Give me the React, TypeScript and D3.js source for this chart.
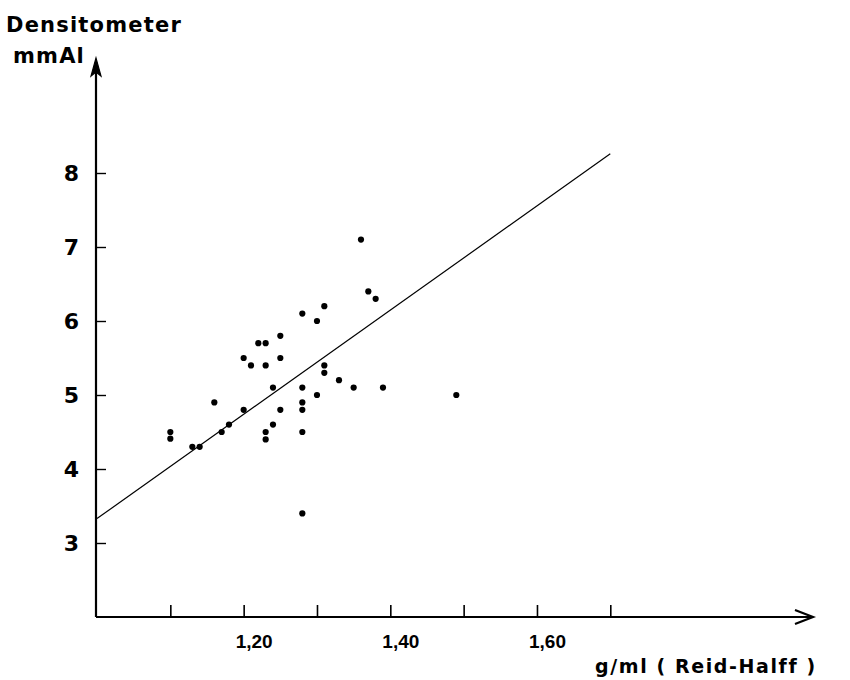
import {useEffect, useRef} from "react";
import * as d3 from "d3";

// g/ml (Reid-Halff) vs densitometer mmAl
const density = [1.10, 1.10, 1.13, 1.14, 1.16, 1.17, 1.18, 1.20, 1.20, 1.21, 1.22, 1.23, 1.23, 1.23, 1.23, 1.24, 1.24, 1.25, 1.25, 1.25,
    1.28, 1.28, 1.28, 1.28, 1.28, 1.28, 1.30, 1.30, 1.31, 1.31, 1.31, 1.33, 1.35, 1.36, 1.37, 1.38, 1.39, 1.49];
const mmAl = [4.50, 4.41, 4.30, 4.30, 4.90, 4.50, 4.60, 4.80, 5.50, 5.40, 5.70, 5.70, 5.40, 4.50, 4.40, 5.10, 4.60, 5.80, 5.50, 4.80,
    6.10, 5.10, 4.90, 4.80, 4.50, 3.40, 6.00, 5.00, 6.20, 5.40, 5.30, 5.20, 5.10, 7.10, 6.40, 6.30, 5.10, 5.00];

// regression line end points
const fitX = [1.0, 1.70];
const fitY = [3.33, 8.26];

const xTicks = [1.1, 1.2, 1.3, 1.4, 1.5, 1.6, 1.7];
const xLabelled = [1.2, 1.4, 1.6];
const yTicks = [3, 4, 5, 6, 7, 8];

const font = "'DejaVu Sans', sans-serif";

function App() {
    const ref = useRef<SVGSVGElement>(null);

    useEffect(() => {
        const svg = d3.select(ref.current);
        svg.selectAll("*").remove();

        const x = d3.scaleLinear().domain([1.0, 1.7]).range([97, 610.3]);
        const y = d3.scaleLinear().domain([2, 8]).range([617, 173]);

        // x axis ticks (inward) and labels
        const gx = svg.append("g")
            .attr("transform", "translate(0,617)")
            .call(d3.axisBottom(x)
                .tickValues(xTicks)
                .tickSize(-12)
                .tickPadding(18)
                .tickFormat(d => xLabelled.some(v => Math.abs(v - +d) < 1e-6) ? d3.format(".2f")(+d).replace(".", ",") : ""));
        gx.select(".domain").remove();
        gx.selectAll("line").attr("stroke", "#000").attr("stroke-width", 1.6);
        gx.selectAll("text")
            .attr("dx", 10)
            .attr("font-family", "'Liberation Sans', sans-serif")
            .attr("font-size", 19)
            .attr("font-weight", 700)
            .attr("fill", "#000");

        // y axis ticks (inward) and labels
        const gy = svg.append("g")
            .attr("transform", "translate(96,0)")
            .call(d3.axisLeft(y)
                .tickValues(yTicks)
                .tickSize(-10)
                .tickPadding(17)
                .tickFormat(d3.format("d")));
        gy.select(".domain").remove();
        gy.selectAll("line").attr("stroke", "#000").attr("stroke-width", 1.4);
        gy.selectAll("text")
            .attr("font-family", font)
            .attr("font-size", 22)
            .attr("font-weight", 700)
            .attr("fill", "#000");

        // axis lines with arrows
        svg.append("line")
            .attr("x1", 96).attr("y1", 617).attr("x2", 96).attr("y2", 62)
            .attr("stroke", "#000").attr("stroke-width", 2.2);
        svg.append("path")
            .attr("d", "M96,58 L91,76 L96,72 L101,76 Z")
            .attr("fill", "#000").attr("stroke", "#000").attr("stroke-width", 1.2);

        svg.append("line")
            .attr("x1", 96).attr("y1", 617).attr("x2", 812).attr("y2", 617)
            .attr("stroke", "#000").attr("stroke-width", 2.2);
        svg.append("path")
            .attr("d", "M795,610 L813,617 L795,624")
            .attr("fill", "none").attr("stroke", "#000").attr("stroke-width", 2.2);

        // regression line
        svg.append("line")
            .attr("x1", x(fitX[0])).attr("y1", y(fitY[0]))
            .attr("x2", x(fitX[1])).attr("y2", y(fitY[1]))
            .attr("stroke", "#000").attr("stroke-width", 1.2);

        // points
        svg.append("g")
            .selectAll("circle")
            .data(density.map((d, i) => [d, mmAl[i]]))
            .enter().append("circle")
            .attr("cx", d => x(d[0]))
            .attr("cy", d => y(d[1]))
            .attr("r", 3.1)
            .attr("fill", "#000");

        // axis titles
        svg.append("text")
            .attr("x", 6).attr("y", 32)
            .attr("font-family", font).attr("font-size", 21).attr("font-weight", 700)
            .attr("letter-spacing", 1.2)
            .text("Densitometer");
        svg.append("text")
            .attr("x", 13).attr("y", 63)
            .attr("font-family", font).attr("font-size", 21).attr("font-weight", 700)
            .attr("letter-spacing", 1.2)
            .text("mmAl");
        svg.append("text")
            .attr("x", 595).attr("y", 673)
            .attr("font-family", font).attr("font-size", 19).attr("font-weight", 700)
            .attr("letter-spacing", 1.6)
            .text("g/ml ( Reid-Halff )");
    }, []);

    return <svg ref={ref} width={850} height={680}
                style={{position: "absolute", left: 0, top: 0, background: "#fff", display: "block"}}/>;
}

export default App;
